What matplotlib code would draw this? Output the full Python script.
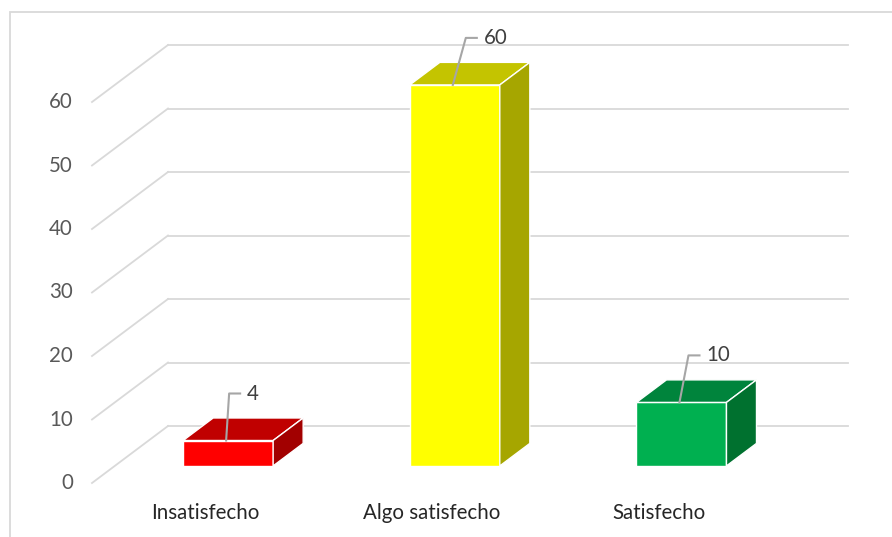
import matplotlib.pyplot as plt
from matplotlib.patches import Polygon, Rectangle

# data
categories = ['Insatisfecho', 'Algo satisfecho', 'Satisfecho']
values = [4, 60, 10]
y_ticks = [0, 10, 20, 30, 40, 50, 60]

front_colors = ['#FF0000', '#FFFF00', '#00B050']
top_colors = ['#C00000', '#C4C400', '#00843C']
side_colors = ['#A20000', '#A6A600', '#00712F']
leader_dx_px = [3, 13, 9]

plt.rcParams['font.family'] = ['Lato', 'DejaVu Sans']

W, H = 892, 537
fig = plt.figure(figsize=(W / 100, H / 100), dpi=100)
ax = fig.add_axes([0, 0, 1, 1])
ax.axis('off')

# map pixels to data units (front-left floor corner at 92, 483)
sx, sy = 226.67, 6.35
x0_px, y0_px = 92, 483
ax.set_xlim(-0.5 - x0_px / sx, -0.5 + (W - x0_px) / sx)
ax.set_ylim(-(H - y0_px) / sy, y0_px / sy)

# depth of the 3d box
DX, DY = 76 / sx, 57 / sy
grid_color = '#D9D9D9'
fs = 14.8

# side wall and back wall gridlines + tick labels
for v in y_ticks:
    ax.plot([-0.5, -0.5 + DX], [v, v + DY], color=grid_color, lw=1.3, zorder=1)
    ax.plot([-0.5 + DX, 2.5 + DX], [v + DY, v + DY], color=grid_color, lw=1.3, zorder=1)
    ax.text(-0.5 - 19 / sx, v, str(v), ha='right', va='center',
            fontsize=fs, color='#595959')

# bars
d0, d1 = 0.3, 0.695
bw = 90 / sx
bdx, bdy = (d1 - d0) * DX, (d1 - d0) * DY
for i, v in enumerate(values):
    xc = i + d0 * DX
    base = d0 * DY
    top = base + v
    xl, xr = xc - bw / 2, xc + bw / 2
    ax.bar(xc, v, bw, bottom=base, color=front_colors[i],
           edgecolor='white', linewidth=1, zorder=3)
    ax.add_patch(Polygon([(xl, top), (xr, top), (xr + bdx, top + bdy), (xl + bdx, top + bdy)],
                         closed=True, facecolor=top_colors[i], edgecolor='white', lw=1, zorder=3))
    ax.add_patch(Polygon([(xr, base), (xr, top), (xr + bdx, top + bdy), (xr + bdx, base + bdy)],
                         closed=True, facecolor=side_colors[i], edgecolor='white', lw=1, zorder=3))

    # data label with leader line
    lx = xc - 2 / sx
    ex = lx + leader_dx_px[i] / sx
    ey = top + 47 / sy
    ax.plot([lx, ex, ex + 11 / sx], [top, ey, ey], color='#A6A6A6', lw=1.5, zorder=4)
    ax.text(ex + 18 / sx, ey, str(v), ha='left', va='center',
            fontsize=fs, color='#404040', zorder=5)

# category labels
for i, c in enumerate(categories):
    ax.text(i, -30 / sy, c, ha='center', va='center', fontsize=fs, color='#262626')

# chart border
fig.add_artist(Rectangle((10 / W, -0.1), 1.2, 1.1 - 12 / H, transform=fig.transFigure,
                         fill=False, edgecolor='#D9D9D9', lw=1.3))

fig.savefig('out.png', dpi=100)
